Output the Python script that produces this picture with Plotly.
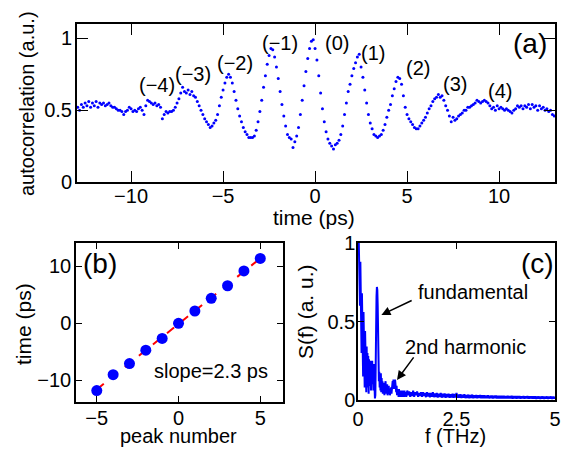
import numpy as np
import plotly.graph_objects as go

# ---------------- data ----------------
# (a) autocorrelation, sampled every 0.1 ps from -12.9 ps
t_start, t_step = -12.9, 0.1
autocorr = [
    0.52, 0.50, 0.54, 0.52, 0.55, 0.53, 0.56, 0.52, 0.55, 0.53,
    0.56, 0.52, 0.55, 0.54, 0.55, 0.53, 0.54, 0.55, 0.53, 0.52,
    0.52, 0.51, 0.50, 0.50, 0.49, 0.47, 0.49, 0.50, 0.52, 0.51,
    0.49, 0.50, 0.49, 0.51, 0.52, 0.50, 0.47, 0.53, 0.57, 0.56,
    0.55, 0.54, 0.55, 0.53, 0.54, 0.52, 0.44, 0.47, 0.49, 0.48,
    0.49, 0.49, 0.50, 0.52, 0.55, 0.58, 0.62, 0.66, 0.63, 0.62,
    0.64, 0.61, 0.63, 0.60, 0.59, 0.56, 0.53, 0.50, 0.47, 0.44,
    0.42, 0.40, 0.38, 0.39, 0.41, 0.43, 0.47, 0.53, 0.59, 0.64,
    0.69, 0.73, 0.75, 0.73, 0.69, 0.63, 0.57, 0.51, 0.46, 0.42,
    0.38, 0.35, 0.33, 0.31, 0.31, 0.31, 0.32, 0.36, 0.42, 0.49,
    0.57, 0.66, 0.74, 0.82, 0.88, 0.93, 0.92, 0.87, 0.80, 0.72,
    0.63, 0.54, 0.46, 0.39, 0.33, 0.31, 0.30, 0.24, 0.28, 0.32,
    0.38, 0.47, 0.57, 0.67, 0.77, 0.86, 0.93, 0.98, 0.99, 0.93,
    0.85, 0.74, 0.62, 0.51, 0.42, 0.35, 0.30, 0.27, 0.25, 0.23,
    0.26, 0.27, 0.29, 0.33, 0.39, 0.47, 0.55, 0.63, 0.68, 0.74,
    0.79, 0.83, 0.87, 0.89, 0.80, 0.73, 0.64, 0.55, 0.47, 0.41,
    0.37, 0.33, 0.32, 0.31, 0.32, 0.33, 0.36, 0.40, 0.45, 0.50,
    0.54, 0.60, 0.65, 0.70, 0.73, 0.72, 0.68, 0.60, 0.52, 0.47,
    0.44, 0.42, 0.40, 0.38, 0.37, 0.37, 0.39, 0.41, 0.43, 0.45,
    0.48, 0.51, 0.53, 0.56, 0.58, 0.59, 0.61, 0.59, 0.60, 0.57,
    0.53, 0.50, 0.46, 0.42, 0.45, 0.43, 0.44, 0.46, 0.47, 0.48,
    0.50, 0.50, 0.52, 0.52, 0.53, 0.54, 0.55, 0.57, 0.56, 0.55,
    0.56, 0.57, 0.56, 0.55, 0.53, 0.51, 0.52, 0.50, 0.53, 0.51,
    0.52, 0.51, 0.50, 0.51, 0.50, 0.49, 0.48, 0.50, 0.51, 0.53,
    0.52, 0.53, 0.51, 0.53, 0.52, 0.54, 0.51, 0.54, 0.52, 0.53,
    0.50, 0.53, 0.51, 0.52, 0.50, 0.51, 0.49, 0.50, 0.47, 0.46,
]
peak_labels = ["(−4)", "(−3)", "(−2)", "(−1)", "(0)", "(1)", "(2)", "(3)", "(4)"]

# (b) peak positions and linear fit
peak_number = [-5, -4, -3, -2, -1, 0, 1, 2, 3, 4, 5]
peak_time = [-11.8, -9.0, -7.05, -4.7, -2.65, 0.0, 2.17, 4.4, 6.6, 9.2, 11.4]
fit_number = [-5, 5]
fit_time = [-11.6, 11.4]
slope_text = "slope=2.3 ps"

# (c) spectrum: 0..1.2 THz every 0.01 THz, then 1.225..5 THz every 0.025 THz
f_lo_start, f_lo_step = 0.0, 0.01
spec_lo = [
    1.0, 0.95, 1.0, 0.75, 0.95, 0.6, 0.88, 0.45, 0.78, 0.3,
    0.68, 0.22, 0.62, 0.15, 0.56, 0.18, 0.5, 0.08, 0.44, 0.12,
    0.38, 0.05, 0.34, 0.08, 0.3, 0.1, 0.28, 0.04, 0.26, 0.09,
    0.24, 0.12, 0.25, 0.06, 0.23, 0.1, 0.25, 0.14, 0.22, 0.06,
    0.23, 0.05, 0.1, 0.01, 0.03, 0.15, 0.45, 0.66, 0.72, 0.7,
    0.6, 0.42, 0.22, 0.12, 0.18, 0.08, 0.16, 0.06, 0.17, 0.05,
    0.14, 0.07, 0.12, 0.04, 0.1, 0.05, 0.11, 0.03, 0.09, 0.05,
    0.12, 0.04, 0.09, 0.06, 0.1, 0.03, 0.08, 0.05, 0.09, 0.04,
    0.07, 0.03, 0.06, 0.05, 0.08, 0.04, 0.1, 0.06, 0.12, 0.07,
    0.13, 0.08, 0.12, 0.07, 0.13, 0.06, 0.11, 0.05, 0.09, 0.03,
    0.07, 0.03, 0.06, 0.02, 0.07, 0.03, 0.06, 0.02, 0.05, 0.03,
    0.06, 0.02, 0.05, 0.03, 0.06, 0.02, 0.05, 0.02, 0.06, 0.03,
    0.05,
]
f_hi_start, f_hi_step = 1.225, 0.025
spec_hi = [
    0.02, 0.06, 0.03, 0.055, 0.02, 0.05, 0.025, 0.06,
    0.02, 0.05, 0.03, 0.055, 0.02, 0.045, 0.025, 0.05,
    0.02, 0.05, 0.025, 0.045, 0.018, 0.05, 0.022, 0.045,
    0.018, 0.045, 0.02, 0.05, 0.018, 0.042, 0.02, 0.045,
    0.016, 0.04, 0.02, 0.045, 0.015, 0.04, 0.018, 0.042,
    0.015, 0.038, 0.018, 0.04, 0.014, 0.036, 0.016, 0.04,
    0.014, 0.038, 0.016, 0.045, 0.014, 0.035, 0.015, 0.036,
    0.013, 0.034, 0.015, 0.036, 0.012, 0.032, 0.014, 0.034,
    0.012, 0.032, 0.014, 0.034, 0.012, 0.03, 0.013, 0.032,
    0.012, 0.03, 0.013, 0.032, 0.011, 0.029, 0.012, 0.03,
    0.011, 0.028, 0.012, 0.03, 0.011, 0.027, 0.012, 0.028,
    0.01, 0.027, 0.012, 0.028, 0.01, 0.026, 0.011, 0.027,
    0.01, 0.026, 0.011, 0.027, 0.01, 0.025, 0.011, 0.026,
    0.01, 0.025, 0.011, 0.026, 0.009, 0.024, 0.01, 0.025,
    0.009, 0.024, 0.01, 0.025, 0.009, 0.023, 0.01, 0.024,
    0.009, 0.023, 0.01, 0.024, 0.009, 0.022, 0.01, 0.023,
    0.009, 0.022, 0.01, 0.023, 0.008, 0.022, 0.009, 0.022,
    0.008, 0.022, 0.009, 0.022, 0.008, 0.021, 0.009, 0.022,
    0.008, 0.021, 0.009, 0.022, 0.008, 0.021, 0.009, 0.021,
]

# sampling grids
t = np.round(t_start + t_step * np.arange(len(autocorr)), 3)
f_lo = np.round(f_lo_start + f_lo_step * np.arange(len(spec_lo)), 4)
f_hi = np.round(f_hi_start + f_hi_step * np.arange(len(spec_hi)), 4)
freq = np.concatenate([f_lo, f_hi])
spec = list(spec_lo) + list(spec_hi)

# ---------------- figure ----------------
FONT = "Liberation Sans, Arial, sans-serif"
OFF = 8                      # page body margin
W, H = 580 - 2 * OFF, 455 - 2 * OFF
BLUE = "#0000ff"

fig = go.Figure()
fig.add_trace(go.Scatter(x=t, y=autocorr, mode="markers",
                         marker=dict(color=BLUE, size=3), xaxis="x", yaxis="y",
                         showlegend=False))
fig.add_trace(go.Scatter(x=fit_number, y=fit_time, mode="lines",
                         line=dict(color="#ff0000", width=2, dash="dash"),
                         xaxis="x2", yaxis="y2", showlegend=False))
fig.add_trace(go.Scatter(x=peak_number, y=peak_time, mode="markers",
                         marker=dict(color=BLUE, size=11), xaxis="x2", yaxis="y2",
                         showlegend=False))
fig.add_trace(go.Scatter(x=freq, y=spec, mode="lines",
                         line=dict(color=BLUE, width=2), xaxis="x3", yaxis="y3",
                         showlegend=False))


def px_x(p):
    return (p - OFF) / W


def px_y(p):
    return 1 - (p - OFF) / H


axis_common = dict(showline=True, linecolor="black", mirror="allticks",
                   ticks="inside", tickcolor="black", showgrid=False,
                   zeroline=False, automargin=False,
                   tickfont=dict(size=20, color="black", family=FONT))

fig.update_layout(
    template="none",
    width=W, height=H, margin=dict(l=0, r=0, t=0, b=0),
    paper_bgcolor="white", plot_bgcolor="white",
    font=dict(family=FONT, size=20, color="black"),
    xaxis=dict(domain=[px_x(77), px_x(555)], range=[-12.94, 13.04],
               tickvals=[-10, -5, 0, 5, 10], ticklen=11, linewidth=2,
               ticklabelstandoff=-5, anchor="y", **axis_common),
    yaxis=dict(domain=[px_y(182), px_y(24)], range=[0, 1.1],
               tickvals=[0, 0.5, 1], ticktext=["0", "0.5", "1"], ticklen=11, linewidth=2,
               ticklabelstandoff=-1, anchor="x", **axis_common),
    xaxis2=dict(domain=[px_x(76), px_x(283)], range=[-6.27, 6.39],
                tickvals=[-5, 0, 5], ticklen=6, linewidth=1.5,
                ticklabelstandoff=-3, anchor="y2", **axis_common),
    yaxis2=dict(domain=[px_y(402), px_y(243)], range=[-13.8, 14.1],
                tickvals=[-10, 0, 10], ticklen=6, linewidth=1.5,
                ticklabelstandoff=-1, anchor="x2", **axis_common),
    xaxis3=dict(domain=[px_x(358), px_x(555)], range=[0, 5],
                tickvals=[0, 2.5, 5], ticktext=["0", "2.5", "5"], ticklen=6, linewidth=1.5,
                ticklabelstandoff=0, anchor="y3", **axis_common),
    yaxis3=dict(domain=[px_y(400), px_y(243)], range=[0, 1],
                tickvals=[0, 0.5, 1], ticktext=["0", "0.5", "1"], ticklen=6, linewidth=1.5,
                ticklabelstandoff=-3, anchor="x3", **axis_common),
)


def txt(x, y, s, size=20, xref="paper", yref="paper", angle=0):
    if xref == "paper":
        x = px_x(x)
    if yref == "paper":
        y = px_y(y)
    return dict(x=x, y=y, xref=xref, yref=yref, text=s, showarrow=False,
                textangle=angle, xanchor="center", yanchor="middle",
                font=dict(size=size, family=FONT, color="black"))


ann = []
peak_pos = [(-8.6, 0.674), (-6.61, 0.751), (-4.375, 0.831), (-1.9, 0.967),
            (1.18, 0.967), (3.17, 0.897), (5.6, 0.795), (7.61, 0.681), (10.05, 0.632)]
for lab, (x, y) in zip(peak_labels, peak_pos):
    ann.append(txt(x, y, lab, 20, "x", "y"))
# axis titles
ann.append(txt(314, 218, "time (ps)", 21))
ann.append(txt(27, 104, "autocorrelation (a.u.)", 20, angle=-90))
ann.append(txt(178, 436, "peak number", 20))
ann.append(txt(23, 324, "time (ps)", 21, angle=-90))
ann.append(txt(455, 436, "f (THz)", 20))
ann.append(txt(305, 312, "S(f) (a. u.)", 21, angle=-90))
# panel letters
ann.append(txt(530, 43, "(a)", 28))
ann.append(txt(100, 263, "(b)", 28))
ann.append(txt(537, 263, "(c)", 28))
ann.append(txt(2.0, -8.36, slope_text, 20, "x2", "y2"))
ann.append(txt(2.92, 0.685, "fundamental", 20, "x3", "y3"))
ann.append(txt(2.73, 0.34, "2nd harmonic", 20, "x3", "y3"))
ann.append(dict(x=0.594, y=0.542, ax=1.40, ay=0.638, xref="x3", yref="y3",
                axref="x3", ayref="y3", text="", showarrow=True, arrowhead=2,
                arrowsize=1.2, arrowwidth=1.5, arrowcolor="black"))
ann.append(dict(x=0.99, y=0.128, ax=1.44, ay=0.281, xref="x3", yref="y3",
                axref="x3", ayref="y3", text="", showarrow=True, arrowhead=2,
                arrowsize=1.2, arrowwidth=1.5, arrowcolor="black"))
fig.update_layout(annotations=ann)

fig.write_html("out.html")
